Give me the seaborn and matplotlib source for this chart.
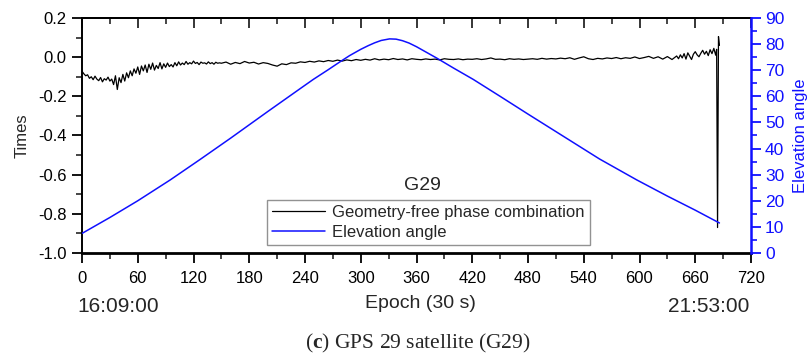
import numpy as np
import pandas as pd
import matplotlib
matplotlib.use("Agg")
import matplotlib.pyplot as plt
import seaborn as sns
from matplotlib.ticker import MultipleLocator

# ---------------- data ----------------
gf_epochs_a = list(range(0, 149, 2))
gf_values_a = [-0.072, -0.085, -0.095, -0.090, -0.108, -0.100, -0.115, -0.097, -0.112, -0.120,
               -0.104, -0.126, -0.110, -0.117, -0.102, -0.122, -0.112, -0.140, -0.095, -0.165,
               -0.105, -0.130, -0.088, -0.122, -0.080, -0.105, -0.070, -0.095, -0.060, -0.082,
               -0.050, -0.088, -0.045, -0.070, -0.040, -0.078, -0.036, -0.062, -0.030, -0.066,
               -0.042, -0.058, -0.028, -0.060, -0.034, -0.052, -0.030, -0.048, -0.038, -0.050,
               -0.028, -0.044, -0.024, -0.040, -0.030, -0.038, -0.022, -0.036, -0.028, -0.034,
               -0.020, -0.032, -0.027, -0.038, -0.025, -0.031, -0.029, -0.035, -0.024, -0.033,
               -0.028, -0.036, -0.026, -0.031, -0.029]
gf_epochs_b = list(range(150, 641, 5))
gf_values_b = [-0.031, -0.025, -0.036, -0.027, -0.033, -0.022, -0.030, -0.026, -0.035, -0.028,
               -0.032, -0.040, -0.046, -0.034, -0.038, -0.029, -0.031, -0.024, -0.027, -0.021,
               -0.025, -0.019, -0.023, -0.017, -0.021, -0.015, -0.020, -0.014, -0.018, -0.012,
               -0.016, -0.011, -0.015, -0.008, -0.014, -0.010, -0.013, -0.007, -0.012, -0.009,
               -0.014, -0.008, -0.011, -0.013, -0.009, -0.012, -0.010, -0.014, -0.008, -0.011,
               -0.012, -0.009, -0.013, -0.010, -0.011, -0.008, -0.012, -0.009, -0.004, -0.011,
               -0.010, -0.013, -0.008, -0.011, -0.009, -0.012, -0.010, -0.008, -0.011, -0.006,
               -0.010, -0.007, -0.009, -0.005, -0.008, -0.003, -0.011, -0.004, 0.002, -0.008,
               -0.012, -0.006, -0.009, -0.004, -0.007, -0.002, -0.008, -0.003, -0.006, 0.001,
               -0.007, -0.002, 0.004, -0.006, 0.002, -0.010, 0.003, -0.012, 0.006]
gf_epochs_c = [642, 644, 646, 648, 650, 652, 654, 656, 658, 660, 662, 664, 666, 668, 670,
               672, 674, 676, 678, 680, 682, 683, 684, 685, 686]
gf_values_c = [-0.008, 0.012, -0.004, 0.018, -0.010, 0.022, 0.005, -0.012, 0.015, 0.028,
               0.012, 0.002, 0.020, 0.035, 0.015, 0.030, 0.008, 0.038, 0.018, 0.045,
               0.010, 0.040, -0.870, 0.105, 0.060]

elev_epochs = [0, 30, 60, 95, 127, 160, 200, 235, 249, 265, 278, 288, 300, 308, 315, 322, 331,
               338, 345, 352, 360, 370, 382, 400, 421, 450, 480, 510, 557, 597, 630, 660, 686]
elev_values = [7.5, 13.6, 20.0, 28.0, 35.8, 44.0, 54.2, 63.0, 66.5, 70.2, 73.3, 75.6, 78.0, 79.4,
               80.5, 81.4, 82.0, 81.9, 81.3, 80.4, 79.0, 77.0, 74.6, 70.8, 66.5, 60.0, 53.2, 46.5,
               36.0, 28.0, 21.8, 16.4, 11.5]

x_ticks = [0, 60, 120, 180, 240, 300, 360, 420, 480, 540, 600, 660, 720]
y_ticks = [0.2, 0.0, -0.2, -0.4, -0.6, -0.8, -1.0]
y2_ticks = [0, 10, 20, 30, 40, 50, 60, 70, 80, 90]

gf_df = pd.DataFrame({"epoch": gf_epochs_a + gf_epochs_b + gf_epochs_c,
                      "value": gf_values_a + gf_values_b + gf_values_c})
el_df = pd.DataFrame({"epoch": elev_epochs, "elev": elev_values})

# ---------------- style ----------------
sns.set_style("ticks")
plt.rcParams["font.family"] = ["Liberation Sans", "DejaVu Sans"]
plt.rcParams["mathtext.fontset"] = "custom"
plt.rcParams["mathtext.rm"] = "Liberation Serif"
plt.rcParams["mathtext.bf"] = "Liberation Serif:bold"

BLUE = "#1010ff"

fig = plt.figure(figsize=(8.11, 3.58), dpi=100)
ax = fig.add_axes([82 / 811, 1 - 253 / 358, (751 - 82) / 811, (253 - 18) / 358])
ax2 = ax.twinx()

sns.lineplot(data=gf_df, x="epoch", y="value", ax=ax, color="black", linewidth=0.9,
             label="Geometry-free phase combination", legend=False, sort=False)
sns.lineplot(data=el_df, x="epoch", y="elev", ax=ax2, color=BLUE, linewidth=1.1,
             label="Elevation angle", legend=False, sort=False)

ax.set_xlim(0, 720)
ax.set_ylim(-1.0, 0.2)
ax2.set_ylim(0, 90)

ax.set_xticks(x_ticks)
ax.set_xticklabels([str(t) for t in x_ticks])
ax.xaxis.set_minor_locator(MultipleLocator(30))
ax.set_yticks(y_ticks)
ax.set_yticklabels([f"{t:.1f}" for t in y_ticks])
ax.yaxis.set_minor_locator(MultipleLocator(0.1))
ax2.set_yticks(y2_ticks)
ax2.yaxis.set_minor_locator(MultipleLocator(5))

ax.tick_params(axis="both", which="major", direction="out", length=7, width=1.3,
               labelsize=12, colors="black", pad=4)
ax.tick_params(axis="both", which="minor", direction="out", length=4, width=1.2)
ax.tick_params(axis="x", pad=6)
ax2.tick_params(axis="y", which="major", direction="out", length=7, width=1.3,
                labelsize=12.5, colors=BLUE, pad=3)
ax2.tick_params(axis="y", which="minor", direction="out", length=4, width=1.2, colors=BLUE)

# top inward ticks
top = ax.secondary_xaxis("top")
top.set_xticks(x_ticks)
top.xaxis.set_minor_locator(MultipleLocator(30))
top.tick_params(which="major", direction="in", length=7, width=1.3, labeltop=False)
top.tick_params(which="minor", direction="in", length=4, width=1.2)
top.spines["top"].set_linewidth(1.3)

for s in ["left", "bottom", "top"]:
    ax.spines[s].set_linewidth(1.4)
    ax.spines[s].set_color("black")
ax.spines["bottom"].set_linewidth(2.0)
ax.spines["right"].set_visible(False)
ax2.spines["right"].set_color(BLUE)
ax2.spines["right"].set_linewidth(1.8)
for s in ["left", "bottom", "top"]:
    ax2.spines[s].set_visible(False)

ax.set_xlabel("")
ax.set_ylabel("Times", fontsize=12, labelpad=6)
ax2.set_ylabel("Elevation angle", fontsize=12, color=BLUE, labelpad=6)

# texts under the axis
fig.text(118 / 811, 1 - 306 / 358, "16:09:00", ha="center", va="center", fontsize=15)
fig.text(420 / 811, 1 - 303 / 358, "Epoch (30 s)", ha="center", va="center", fontsize=14)
fig.text(709 / 811, 1 - 306 / 358, "21:53:00", ha="center", va="center", fontsize=15)
fig.text(418 / 811, 1 - 343 / 358, r"($\mathbf{c}$) GPS 29 satellite (G29)", ha="center",
         va="center", fontsize=15.5, family=["Liberation Serif", "DejaVu Serif"])

ax.text((422 - 82) / 669, (253 - 185) / 235, "G29", transform=ax.transAxes, ha="center",
        va="center", fontsize=14)

h1, l1 = ax.get_legend_handles_labels()
h2, l2 = ax2.get_legend_handles_labels()
leg = ax2.legend(h1 + h2, l1 + l2, loc="lower left",
                 bbox_to_anchor=((267 - 82) / 669, (253 - 245) / 235),
                 frameon=True, fancybox=False, edgecolor="#777777", fontsize=12,
                 borderpad=0.3, labelspacing=0.3, handlelength=3.2, handletextpad=0.4,
                 borderaxespad=0)
leg.get_frame().set_linewidth(1.0)

fig.savefig("out.png", dpi=100)
